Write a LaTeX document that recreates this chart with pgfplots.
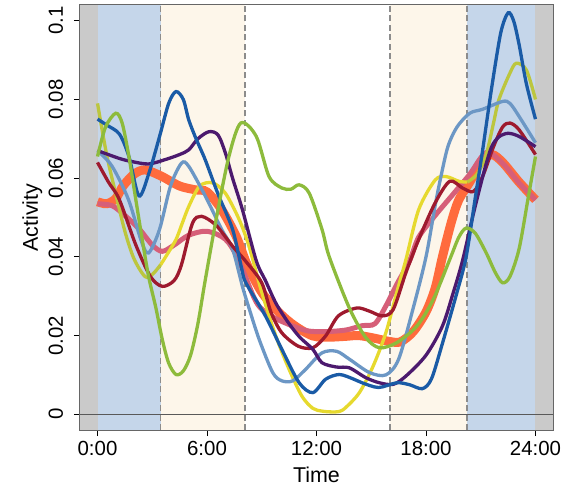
\documentclass[border=0pt]{standalone}
\usepackage{fontspec}
\setmainfont{Liberation Sans}
\usepackage{pgfplots}
\pgfplotsset{compat=1.18}
\definecolor{bandblue}{HTML}{C5D6EA}
\definecolor{bandcream}{HTML}{FDF6EA}
\definecolor{bandgrey}{HTML}{CACACA}
\definecolor{cDB}{HTML}{1A5BA6}
\definecolor{cSB}{HTML}{6C97C5}
\definecolor{cPU}{HTML}{4C1A6E}
\definecolor{cDR}{HTML}{9E1A2E}
\definecolor{cS}{HTML}{D65F79}
\definecolor{cO}{HTML}{FF6B3D}
\definecolor{cYE}{HTML}{E6D92E}
\definecolor{cYK}{HTML}{BCC63E}
\definecolor{cGR}{HTML}{8DBB3C}
\begin{document}
\begin{tikzpicture}
\begin{axis}[
  at={(0,0)}, anchor=south west,
  scale only axis, width=473bp, height=425bp,
  xmin=-0.96, xmax=24.96, ymin=-0.004, ymax=0.104,
  axis line style={draw=black!60, line width=1bp},
  xtick={0,6,12,18,24}, xticklabels={0:00,6:00,12:00,18:00,24:00},
  ytick={0,0.02,0.04,0.06,0.08,0.1}, yticklabels={0,0.02,0.04,0.06,0.08,0.1},
  tick align=outside, tick pos=left, major tick length=6bp,
  every tick/.style={black, line width=0.8bp},
  ticklabel style={font=\fontsize{20.5}{20.5}\selectfont},
  xticklabel style={anchor=north, inner sep=0pt},
  yticklabel style={rotate=90, anchor=south, inner sep=0pt},
  xticklabel shift=5bp, yticklabel shift=10.7bp,
  xlabel={Time}, ylabel={Activity},
  every axis x label/.style={at={(axis description cs:0.5,-0.1224)}, anchor=base, font=\fontsize{21.5}{21.5}\selectfont},
  every axis y label/.style={at={(axis description cs:-0.0888,0.5)}, rotate=90, anchor=base, font=\fontsize{21.5}{21.5}\selectfont},
  clip=true,
]
\fill[bandgrey] (axis cs:-0.96,-0.004) rectangle (axis cs:0,0.104);
\fill[bandblue] (axis cs:0,-0.004) rectangle (axis cs:3.46,0.104);
\fill[bandcream] (axis cs:3.46,-0.004) rectangle (axis cs:8.07,0.104);
\fill[bandcream] (axis cs:16.03,-0.004) rectangle (axis cs:20.26,0.104);
\fill[bandblue] (axis cs:20.26,-0.004) rectangle (axis cs:24,0.104);
\fill[bandgrey] (axis cs:24,-0.004) rectangle (axis cs:24.96,0.104);
\draw[black!65, line width=1bp] (axis cs:-0.96,0) -- (axis cs:24.96,0);
\draw[black!45, line width=1.5bp, dash pattern=on 6bp off 3.5bp] (axis cs:3.46,-0.004) -- (axis cs:3.46,0.104);
\draw[black!45, line width=1.5bp, dash pattern=on 6bp off 3.5bp] (axis cs:8.07,-0.004) -- (axis cs:8.07,0.104);
\draw[black!45, line width=1.5bp, dash pattern=on 6bp off 3.5bp] (axis cs:16.03,-0.004) -- (axis cs:16.03,0.104);
\draw[black!45, line width=1.5bp, dash pattern=on 6bp off 3.5bp] (axis cs:20.26,-0.004) -- (axis cs:20.26,0.104);

% thick orange
\addplot[cO, line width=9bp, smooth, no markers] coordinates {
(0,0.0540) (0.5,0.0535) (1.0,0.0548) (1.4,0.0580) (2.0,0.0610) (2.6,0.0621) (3.5,0.0605) (4.5,0.0580) (5.4,0.0570) (6.0,0.0565) (6.8,0.0520) (7.6,0.0452) (8.2,0.0380) (9.0,0.0310) (9.96,0.0258) (10.8,0.0225) (11.8,0.0199) (12.7,0.0196) (13.6,0.0198) (14.3,0.0200) (15.1,0.0194) (16.0,0.0185) (16.6,0.0184) (17.3,0.0210) (18.0,0.0260) (18.5,0.0320) (18.9,0.0400) (19.4,0.0490) (19.8,0.0545) (20.4,0.0590) (21.0,0.0640) (21.6,0.0660) (22.2,0.0640) (23.1,0.0590) (24,0.0545)};
% pink
\addplot[cS, line width=5bp, smooth, no markers] coordinates {
(0,0.0535) (0.8,0.0530) (1.5,0.0505) (2.3,0.0470) (3.0,0.0430) (3.55,0.0414) (4.2,0.0430) (5.0,0.0455) (6.0,0.0465) (7.0,0.0445) (7.7,0.0395) (8.7,0.0285) (9.5,0.0250) (10.5,0.0228) (11.5,0.0212) (12.5,0.0210) (13.6,0.0214) (14.5,0.0225) (15.2,0.0230) (15.8,0.0275) (16.4,0.0330) (17.1,0.0390) (17.6,0.0450) (18.5,0.0505) (19.5,0.0560) (20.4,0.0610) (21.3,0.0665) (22.2,0.0638) (23.1,0.0588) (24,0.0545)};
% yellow (khaki over blue band)
\addplot[cYK, line width=3.3bp, smooth, no markers] coordinates {
(0,0.0790) (0.5,0.0660) (1.0,0.0560) (1.5,0.0465) (2.0,0.0395) (2.6,0.0350) (3.0,0.0355) (3.46,0.0380)};
\addplot[cYE, line width=3.3bp, smooth, no markers] coordinates {
(3.46,0.0380) (3.8,0.0405) (4.3,0.0444) (4.6,0.0480) (5.0,0.0528) (5.6,0.0580) (6.3,0.0588) (7.0,0.0562) (7.76,0.0495) (8.3,0.0427) (9.0,0.0310) (9.77,0.0199) (10.5,0.0114) (11.2,0.0046) (11.8,0.0015) (12.3,0.0008) (12.8,0.0006) (13.25,0.0007) (13.6,0.0017) (14.35,0.0055) (15.1,0.0122) (15.8,0.0207) (16.4,0.0310) (16.9,0.0393) (17.6,0.0520) (18.5,0.0595) (19.1,0.0604) (19.8,0.0592) (20.26,0.0590)};
\addplot[cYK, line width=3.3bp, smooth, no markers] coordinates {
(20.26,0.0590) (20.8,0.0610) (21.3,0.0660) (21.7,0.0740) (22.0,0.0800) (22.6,0.0867) (22.95,0.0892) (23.5,0.0875) (24,0.0800)};
% steel blue
\addplot[cSB, line width=3.3bp, smooth, no markers] coordinates {
(0,0.0670) (0.8,0.0630) (1.7,0.0545) (2.4,0.0440) (2.8,0.0410) (3.4,0.0470) (4.0,0.0580) (4.6,0.0638) (5.0,0.0630) (5.9,0.0555) (6.8,0.0470) (7.4,0.0420) (7.94,0.0325) (8.3,0.0270) (8.86,0.0190) (9.6,0.0106) (10.1,0.0085) (10.7,0.0085) (11.4,0.0114) (12.3,0.0156) (13.1,0.0160) (13.8,0.0140) (14.9,0.0106) (15.8,0.0100) (16.5,0.0140) (17.3,0.0270) (18.0,0.0400) (18.5,0.0530) (18.8,0.0600) (19.2,0.0680) (19.7,0.0730) (20.4,0.0765) (21.1,0.0775) (22.2,0.0795) (22.6,0.0790) (23.1,0.0757) (24,0.0690)};
% dark red
\addplot[cDR, line width=3.3bp, smooth, no markers] coordinates {
(0,0.0640) (0.6,0.0590) (1.2,0.0545) (2.1,0.0430) (2.9,0.0350) (3.55,0.0325) (4.2,0.0340) (4.6,0.0380) (5.2,0.0485) (5.7,0.0503) (6.5,0.0480) (7.4,0.0427) (8.1,0.0390) (9.0,0.0334) (9.5,0.0260) (10.1,0.0207) (11.0,0.0173) (11.8,0.0169) (12.5,0.0199) (13.2,0.0250) (14.2,0.0270) (14.9,0.0262) (15.6,0.0250) (16.2,0.0266) (16.9,0.0360) (17.6,0.0444) (18.5,0.0537) (19.3,0.0592) (20.0,0.0575) (20.6,0.0566) (21.1,0.0604) (21.7,0.0680) (22.2,0.0730) (22.6,0.0740) (23.1,0.0723) (24,0.0660)};
% purple
\addplot[cPU, line width=3.3bp, smooth, no markers] coordinates {
(0,0.0670) (1.2,0.0650) (1.9,0.0642) (2.8,0.0636) (3.7,0.0647) (4.5,0.0660) (5.0,0.0672) (5.5,0.0700) (6.1,0.0718) (6.6,0.0710) (7.0,0.0665) (7.4,0.0600) (7.94,0.0520) (8.7,0.0390) (9.2,0.0340) (9.8,0.0280) (10.5,0.0230) (11.1,0.0195) (11.8,0.0165) (12.3,0.0131) (13.1,0.0120) (13.8,0.0118) (14.7,0.0093) (15.45,0.0080) (16.2,0.0076) (16.9,0.0097) (18.0,0.0150) (18.9,0.0224) (19.5,0.0310) (20.0,0.0390) (20.6,0.0510) (21.2,0.0620) (21.6,0.0680) (22.0,0.0705) (22.5,0.0714) (23.1,0.0706) (24,0.0680)};
% dark blue
\addplot[cDB, line width=3.3bp, smooth, no markers] coordinates {
(0,0.0750) (0.5,0.0735) (1.2,0.0712) (1.72,0.0655) (2.27,0.0555) (2.82,0.0613) (3.4,0.0706) (3.9,0.0790) (4.3,0.0820) (4.7,0.0800) (5.0,0.0748) (5.4,0.0700) (5.9,0.0647) (6.6,0.0560) (7.4,0.0470) (7.9,0.0370) (8.13,0.0334) (9.2,0.0250) (10.1,0.0165) (11.05,0.0080) (11.8,0.0055) (12.5,0.0089) (13.25,0.0101) (14.0,0.0090) (14.5,0.0080) (15.4,0.0068) (16.4,0.0080) (17.1,0.0075) (17.8,0.0065) (18.3,0.0090) (18.9,0.0180) (19.7,0.0310) (20.2,0.0400) (20.7,0.0550) (21.1,0.0670) (21.6,0.0830) (22.1,0.0970) (22.5,0.1020) (22.8,0.1000) (23.1,0.0940) (23.5,0.0840) (24,0.0750)};
% green
\addplot[cGR, line width=3.3bp, smooth, no markers] coordinates {
(0,0.0655) (0.44,0.0730) (1.0,0.0765) (1.35,0.0740) (1.72,0.0655) (2.1,0.0545) (2.45,0.0444) (2.8,0.0350) (3.2,0.0270) (3.55,0.0190) (3.9,0.0130) (4.3,0.0101) (4.7,0.0110) (5.1,0.0150) (5.5,0.0230) (5.9,0.0340) (6.5,0.0495) (7.2,0.0655) (7.85,0.0740) (8.7,0.0706) (9.4,0.0604) (10.1,0.0575) (10.6,0.0572) (11.05,0.0583) (11.6,0.0562) (12.3,0.0470) (12.7,0.0400) (13.8,0.0270) (14.7,0.0195) (15.45,0.0169) (16.4,0.0182) (17.5,0.0224) (18.4,0.0292) (19.3,0.0393) (19.8,0.0450) (20.2,0.0473) (20.7,0.0460) (21.3,0.0410) (21.8,0.0360) (22.2,0.0334) (22.6,0.0350) (23.1,0.0420) (23.6,0.0550) (24,0.0655)};
\end{axis}
\pgfresetboundingbox
\path (-80bp,-59bp) rectangle (484bp,430bp);
\end{tikzpicture}
\end{document}
